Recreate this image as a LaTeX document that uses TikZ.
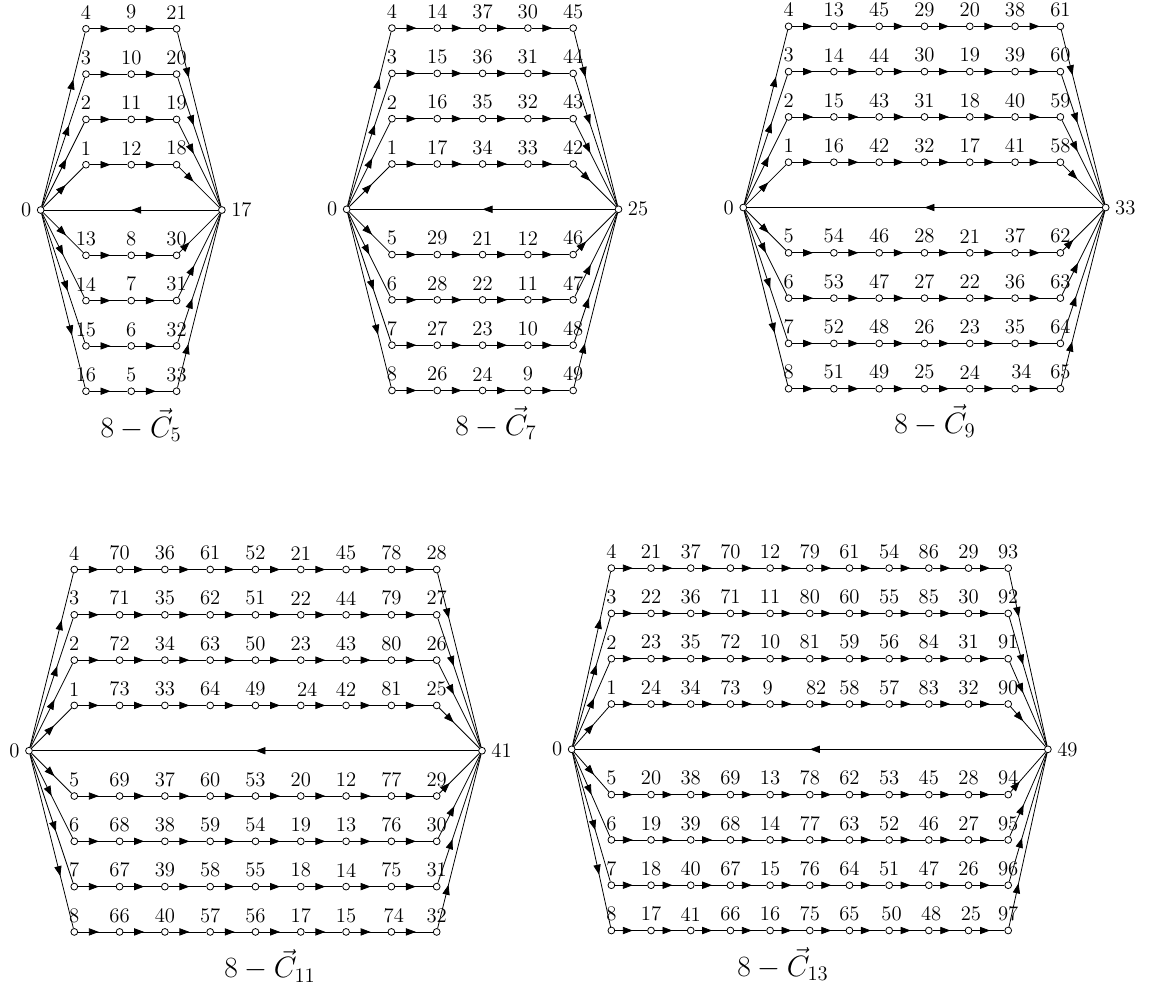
\RequirePackage{fix-cm}
\documentclass[tikz,border=0pt]{standalone}
\usepackage{amsmath,amssymb}
\usetikzlibrary{arrows.meta,decorations.markings}

\begin{document}
\begin{tikzpicture}[x=1cm,y=1cm]
\tikzset{
  vertex/.style={circle,draw=black,fill=white,line width=0.5pt,minimum size=1.5mm,inner sep=0pt},
  numlabel/.style={font=\fontsize{13}{15}\selectfont},
  arcedge/.style={draw=black,line width=0.5pt},
  arcmid/.style={arcedge,postaction={decorate},
    decoration={markings,mark=at position #1 with {\arrow{Triangle[length=2.2mm,width=1.6mm]}}}},
  arcmid/.default=0.55,
  caption/.style={anchor=base,font=\fontsize{18.5}{22}\selectfont}
}
\useasboundingbox (0,0) rectangle (25.563,-21.810);

% 8-C5
\begin{scope}[shift={(0.898,-4.636)}]
\node[vertex,label={[numlabel]left:0}] (a0) at (0,0) {};
\node[vertex,label={[numlabel]right:17}] (aN) at (4,0) {};
\foreach \r/\y/\pl/\pr/\labs in {
  1/4/0.73/0.26/{4,9,21},
  2/3/0.63/0.37/{3,10,20},
  3/2/0.57/0.37/{2,11,19},
  4/1/0.56/0.36/{1,12,18},
  5/-1/0.57/0.26/{13,8,30},
  6/-2/0.5/0.38/{14,7,31},
  7/-3/0.6/0.34/{15,6,32},
  8/-4/0.7/0.25/{16,5,33}}{
  \foreach \lab [count=\c] in \labs
    \node[vertex,label={[numlabel]above:\lab}] (a\r-\c) at (\c,\y) {};
  \foreach \c [count=\p] in {2,...,3}
    \draw[arcmid] (a\r-\p) -- (a\r-\c);
  \draw[arcmid=\pl] (a0) -- (a\r-1);
  \draw[arcmid=\pr] (a\r-3) -- (aN);
}
\draw[arcmid=0.5] (aN) -- (a0);
\end{scope}

% 8-C7
\begin{scope}[shift={(7.653,-4.620)}]
\node[vertex,label={[numlabel]left:0}] (b0) at (0,0) {};
\node[vertex,label={[numlabel]right:25}] (bN) at (6,0) {};
\foreach \r/\y/\pl/\pr/\labs in {
  1/4/0.73/0.26/{4,14,37,30,45},
  2/3/0.63/0.37/{3,15,36,31,44},
  3/2/0.57/0.37/{2,16,35,32,43},
  4/1/0.56/0.36/{1,17,34,33,42},
  5/-1/0.57/0.26/{5,29,21,12,46},
  6/-2/0.5/0.38/{6,28,22,11,47},
  7/-3/0.6/0.34/{7,27,23,10,48},
  8/-4/0.7/0.25/{8,26,24,9,49}}{
  \foreach \lab [count=\c] in \labs
    \node[vertex,label={[numlabel]above:\lab}] (b\r-\c) at (\c,\y) {};
  \foreach \c [count=\p] in {2,...,5}
    \draw[arcmid] (b\r-\p) -- (b\r-\c);
  \draw[arcmid=\pl] (b0) -- (b\r-1);
  \draw[arcmid=\pr] (b\r-5) -- (bN);
}
\draw[arcmid=0.5] (bN) -- (b0);
\end{scope}

% 8-C9
\begin{scope}[shift={(16.408,-4.581)}]
\node[vertex,label={[numlabel]left:0}] (c0) at (0,0) {};
\node[vertex,label={[numlabel]right:33}] (cN) at (8,0) {};
\foreach \r/\y/\pl/\pr/\labs in {
  1/4/0.73/0.26/{4,13,45,29,20,38,61},
  2/3/0.63/0.37/{3,14,44,30,19,39,60},
  3/2/0.57/0.37/{2,15,43,31,18,40,59},
  4/1/0.56/0.36/{1,16,42,32,17,41,58},
  5/-1/0.57/0.26/{5,54,46,28,21,37,62},
  6/-2/0.5/0.38/{6,53,47,27,22,36,63},
  7/-3/0.6/0.34/{7,52,48,26,23,35,64},
  8/-4/0.7/0.25/{8,51,49,25,24,\kern8pt34,65}}{
  \foreach \lab [count=\c] in \labs
    \node[vertex,label={[numlabel]above:\lab}] (c\r-\c) at (\c,\y) {};
  \foreach \c [count=\p] in {2,...,7}
    \draw[arcmid] (c\r-\p) -- (c\r-\c);
  \draw[arcmid=\pl] (c0) -- (c\r-1);
  \draw[arcmid=\pr] (c\r-7) -- (cN);
}
\draw[arcmid=0.5] (cN) -- (c0);
\end{scope}

% 8-C11
\begin{scope}[shift={(0.640,-16.572)}]
\node[vertex,label={[numlabel]left:0}] (d0) at (0,0) {};
\node[vertex,label={[numlabel]right:41}] (dN) at (10,0) {};
\foreach \r/\y/\pl/\pr/\labs in {
  1/4/0.73/0.26/{4,70,36,61,52,21,45,78,28},
  2/3/0.63/0.37/{3,71,35,62,51,22,44,79,27},
  3/2/0.57/0.37/{2,72,34,63,50,23,43,80,26},
  4/1/0.56/0.36/{1,73,33,64,49,\kern8pt24,42,81,25},
  5/-1/0.57/0.26/{5,69,37,60,53,20,12,77,29},
  6/-2/0.5/0.38/{6,68,38,59,54,19,13,76,30},
  7/-3/0.6/0.34/{7,67,39,58,55,18,14,75,31},
  8/-4/0.7/0.25/{8,66,40,57,56,17,15,\kern3pt74,32}}{
  \foreach \lab [count=\c] in \labs
    \node[vertex,label={[numlabel]above:\lab}] (d\r-\c) at (\c,\y) {};
  \foreach \c [count=\p] in {2,...,9}
    \draw[arcmid] (d\r-\p) -- (d\r-\c);
  \draw[arcmid=\pl] (d0) -- (d\r-1);
  \draw[arcmid=\pr] (d\r-9) -- (dN);
}
\draw[arcmid=0.5] (dN) -- (d0);
\end{scope}

% 8-C13, narrower columns
\begin{scope}[shift={(12.620,-16.541)},x=0.876cm]
\node[vertex,label={[numlabel]left:0}] (e0) at (0,0) {};
\node[vertex,label={[numlabel]right:49}] (eN) at (12,0) {};
\foreach \r/\y/\pl/\pr/\labs in {
  1/4/0.73/0.26/{4,21,37,70,12,79,61,54,86,29,93},
  2/3/0.63/0.37/{3,22,36,71,11,80,60,55,85,30,92},
  3/2/0.57/0.37/{2,23,35,72,10,81,59,56,84,31,91},
  4/1/0.56/0.36/{1,24,34,73,9\kern3pt,\kern8pt82,58,57,83,32,90},
  5/-1/0.57/0.26/{5,20,38,69,13,78,62,53,45,28,94},
  6/-2/0.5/0.38/{6,19,39,68,14,77,63,52,46,27,95},
  7/-3/0.6/0.34/{7,18,40,67,15,76,64,51,47,26,96},
  8/-4/0.7/0.25/{8,17,41,66,16,75,65,\kern3pt50,\kern3pt48,\kern3pt25,97}}{
  \foreach \lab [count=\c] in \labs
    \node[vertex,label={[numlabel]above:\lab}] (e\r-\c) at (\c,\y) {};
  \foreach \c [count=\p] in {2,...,11}
    \draw[arcmid] (e\r-\p) -- (e\r-\c);
  \draw[arcmid=\pl] (e0) -- (e\r-1);
  \draw[arcmid=\pr] (e\r-11) -- (eN);
}
\draw[arcmid=0.5] (eN) -- (e0);
\end{scope}

% captions
\node[caption] (capa) at (3.113,-9.647) {$8-\vec{C}_5$};
\node[caption] (capb) at (10.949,-9.603) {$8-\vec{C}_7$};
\node[caption] (capc) at (20.640,-9.565) {$8-\vec{C}_9$};
\node[caption] (capd) at (5.960,-21.589) {$8-\vec{C}_{11}$};
\node[caption] (cape) at (17.285,-21.545) {$8-\vec{C}_{13}$};
\end{tikzpicture}
\end{document}
